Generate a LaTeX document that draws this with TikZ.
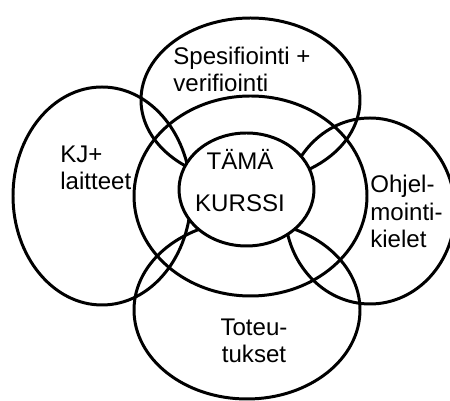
\documentclass[tikz,border=0pt]{standalone}
\usepackage{fontspec}
\setmainfont{Liberation Sans}
\begin{document}
\begin{tikzpicture}[x=0.02cm,y=-0.02cm]
			\tikzset{
				vong/.style={draw=black,line width=1.7pt},
				chu/.style={font=\fontsize{13.7}{15.9}\selectfont,inner sep=0,align=left}
			}
			\useasboundingbox (0,0) rectangle (450,401);
			
			%Các vòng ngoài
			\draw[vong] (102,196) ellipse [x radius=89, y radius=109];
			\draw[vong] (250.5,100) ellipse [x radius=109.5, y radius=82];
			\draw[vong] (370,211) ellipse [x radius=85, y radius=93];
			\draw[vong] (247,310) ellipse [x radius=113, y radius=89];
			\draw[vong] (250.5,196) ellipse [x radius=116.5, y radius=100];
			
			%Vòng giữa
			\filldraw[vong,fill=white] (246.5,189.5) ellipse [x radius=67.5, y radius=56.5];
			
			%Chữ
			\node[chu,anchor=base west] (spec) at (173,92) {Spesifiointi +\\verifiointi};
			\node[chu,anchor=base west] (kj) at (60,190) {KJ+\\laitteet};
			\node[chu,anchor=base west] (ohjel) at (370,248) {Ohjel-\\mointi-\\kielet};
			\node[chu,anchor=base,align=center] (toteu) at (254,363) {Toteu-\\tukset};
			\node[chu,anchor=base,align=center] (kurssi) at (240,212) {TÄMÄ\\[8.5pt]KURSSI};
\end{tikzpicture}
\end{document}
